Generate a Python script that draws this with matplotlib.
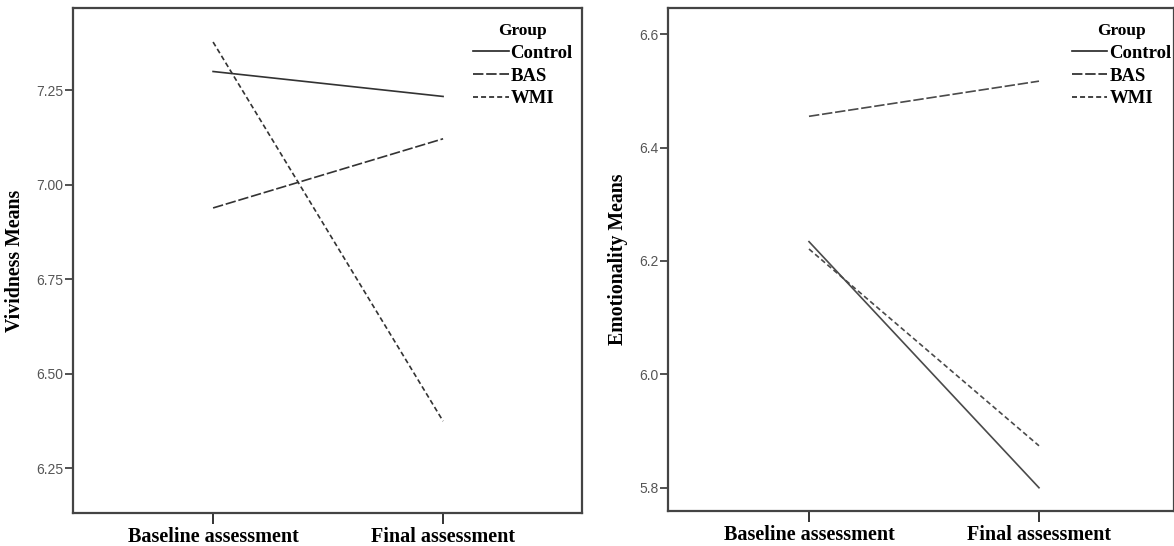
import matplotlib.pyplot as plt

# ---- data ----
momentos = ['Baseline assessment', 'Final assessment']
grupos = ['Control', 'BAS', 'WMI']

vividez = {
    'Control': [7.299, 7.233],
    'BAS': [6.938, 7.121],
    'WMI': [7.377, 6.374],
}
emocionalidade = {
    'Control': [6.234, 5.800],
    'BAS': [6.455, 6.517],
    'WMI': [6.221, 5.874],
}

ticks_viv = [6.25, 6.50, 6.75, 7.00, 7.25]
ticks_emo = [5.8, 6.0, 6.2, 6.4, 6.6]

plt.rcParams['lines.scale_dashes'] = False
estilos = {
    'Control': dict(linestyle='-'),
    'BAS': dict(dashes=(7.5, 2.0)),
    'WMI': dict(dashes=(3.6, 2.2)),
}

serif_bold = dict(family='Liberation Serif', fontweight='bold')

fig = plt.figure(figsize=(11.74, 5.46), dpi=100)
ax1 = fig.add_axes([73/1174, 1 - 513/546, (582 - 73)/1174, (513 - 8)/546])
ax2 = fig.add_axes([668/1174, 1 - 511/546, (1174 - 668)/1174, (511 - 8)/546])


def desenha(ax, dados, ticks, ylim, xlim, ylabel, fmt, cor, xleg):
    x = list(range(len(momentos)))
    for g in grupos:
        ax.plot(x, dados[g], color=cor, linewidth=1.2, label=g, **estilos[g])
    ax.set_xlim(*xlim)
    ax.set_ylim(*ylim)
    ax.set_yticks(ticks)
    ax.set_yticklabels([fmt.format(t) for t in ticks],
                       fontfamily='Liberation Sans', fontsize=10, color='#555555')
    ax.set_xticks(x)
    ax.set_xticklabels(momentos, fontsize=14.5, **serif_bold)
    ax.set_ylabel(ylabel, fontsize=14.3, labelpad=8, **serif_bold)
    ax.tick_params(axis='y', direction='out', length=6, width=1.2, color='#333333', pad=1)
    ax.tick_params(axis='x', direction='out', length=8, width=1.4, color='#333333', pad=2)
    for lado in ax.spines.values():
        lado.set_linewidth(1.6)
        lado.set_color('#444444')
    leg = ax.legend(loc='upper left', bbox_to_anchor=(xleg, 0.97),
                    frameon=False, title='Group', handlelength=1.9, handletextpad=0.1,
                    labelspacing=0.3, borderpad=0, borderaxespad=0,
                    prop=dict(family='Liberation Serif', weight='bold', size=13.5),
                    title_fontproperties=dict(family='Liberation Serif', weight='bold', size=12.5))
    leg._legend_box.sep = 4
    for h in leg.get_lines():
        h.set_color('#222222')
    return leg


desenha(ax1, vividez, ticks_viv, (6.131, 7.467), (-0.609, 1.604),
        'Vividness Means', '{:.2f}', '#333333', 0.786)
desenha(ax2, emocionalidade, ticks_emo, (5.759, 6.646), (-0.613, 1.587),
        'Emotionality Means', '{:.1f}', '#4a4a4a', 0.798)

fig.savefig('out.png', dpi=100)
